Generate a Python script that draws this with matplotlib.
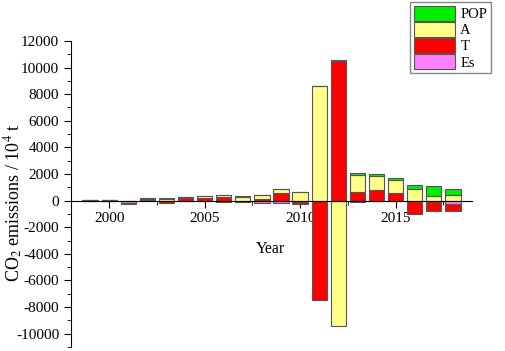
import numpy as np
import matplotlib
matplotlib.use("Agg")
import matplotlib.pyplot as plt
from matplotlib.ticker import MultipleLocator

plt.rcParams['font.family'] = ['Liberation Serif', 'DejaVu Serif']
plt.rcParams['mathtext.fontset'] = 'stix'
plt.rcParams['axes.unicode_minus'] = False

# data (10^4 t)
years = np.arange(1999, 2019)
pop = [0, 20, 0, 20, 30, 20, 30, 30, 20, 20, 30, 30, 30, 50,
       150, 125, 125, 300, 700, 450]
a = [10, 30, -30, 60, 150, 60, 150, 150, 300, 250, 300, 625, 8600, -9400,
     1275, 1100, 975, 875, 375, 425]
t = [10, 30, -40, 30, -150, 200, 200, 250, -100, 150, 550, -200, -7450, 10500,
     650, 775, 575, -925, -725, -500]
es = [0, -10, -150, 80, -20, -30, -40, -120, -30, -150, -200, -80, -30, -30,
      -125, -50, -40, -60, -75, -250]

# stacking order from zero outward: Es, T, A, POP
series = [("Es", es, "#ff80ff"), ("T", t, "#ff0000"),
          ("A", a, "#ffff88"), ("POP", pop, "#00ee00")]

fig = plt.figure(figsize=(5.05, 3.51), dpi=100)
ax = fig.add_axes([0.1406, 0.0114, 0.794, 0.872])

pos_base = np.zeros(len(years))
neg_base = np.zeros(len(years))
handles = {}
for name, vals, col in series:
    v = np.array(vals, dtype=float)
    base = np.where(v >= 0, pos_base, neg_base)
    b = ax.bar(years, v, 0.8, bottom=base, color=col, edgecolor='#555555',
               linewidth=0.8, label=name, zorder=2)
    handles[name] = b
    pos_base = pos_base + np.where(v >= 0, v, 0)
    neg_base = neg_base + np.where(v < 0, v, 0)

ax.set_xlim(1998, 2019)
ax.set_ylim(-11000, 12000)

ax.spines['top'].set_visible(False)
ax.spines['right'].set_visible(False)
ax.spines['bottom'].set_position(('data', 0))
ax.spines['bottom'].set_zorder(3)

ax.xaxis.set_major_locator(MultipleLocator(5))
ax.xaxis.set_minor_locator(MultipleLocator(2.5))
ax.yaxis.set_major_locator(MultipleLocator(2000))
ax.yaxis.set_minor_locator(MultipleLocator(1000))
ax.tick_params(axis='both', which='major', direction='out', length=5,
               labelsize=11)
ax.tick_params(axis='both', which='minor', direction='out', length=3)
ax.set_xticks([2000, 2005, 2010, 2015])

ax.set_xlabel("Year", fontsize=11.5)
ax.xaxis.set_label_coords(0.498, 0.345)
ax.set_ylabel(r"CO$_2$ emissions / 10$^4$ t", fontsize=13)
ax.yaxis.set_label_coords(-0.115, 0.47)

order = ["POP", "A", "T", "Es"]
leg = fig.legend([handles[n] for n in order], order,
                 loc='upper right', bbox_to_anchor=(0.972, 0.994),
                 fancybox=False, edgecolor='#888888', framealpha=1,
                 fontsize=10.5, handlelength=2.8, handleheight=1.2,
                 borderpad=0.25, labelspacing=0.05, handletextpad=0.4,
                 borderaxespad=0)

fig.savefig("out.png", dpi=100)
